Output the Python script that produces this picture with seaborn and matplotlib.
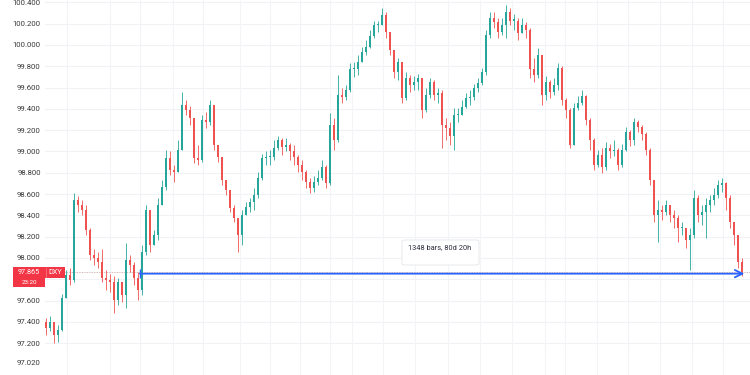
import numpy as np
import pandas as pd
import matplotlib
matplotlib.use("Agg")
import matplotlib.pyplot as plt
import seaborn as sns
from matplotlib.patches import Rectangle, FancyBboxPatch

# ---------------- data ----------------
close = [97.34, 97.40, 97.28, 97.32, 97.62, 97.84, 97.79, 98.54, 98.50, 98.45,
         98.26, 98.03, 98.00, 97.96, 97.81, 97.79, 97.77, 97.61, 97.77, 97.65,
         97.98, 97.93, 97.81, 97.70, 98.06, 98.45, 98.12, 98.22, 98.50, 98.67,
         98.94, 98.83, 98.81, 99.01, 99.44, 99.39, 99.31, 98.94, 98.92, 99.30,
         99.28, 99.44, 99.06, 98.95, 98.73, 98.64, 98.47, 98.38, 98.22, 98.40,
         98.48, 98.53, 98.59, 98.75, 98.94, 98.95, 98.95, 99.03, 99.11, 99.04,
         99.06, 99.00, 98.95, 98.87, 98.81, 98.71, 98.66, 98.71, 98.75, 98.85,
         98.70, 99.25, 99.11, 99.53, 99.51, 99.58, 99.77, 99.77, 99.84, 99.93,
         99.98, 100.08, 100.19, 100.19, 100.28, 100.12, 99.95, 99.75, 99.84, 99.50,
         99.69, 99.62, 99.65, 99.69, 99.39, 99.53, 99.65, 99.53, 99.55, 99.25,
         99.22, 99.15, 99.34, 99.34, 99.42, 99.50, 99.51, 99.60, 99.64, 99.75,
         100.09, 100.25, 100.22, 100.12, 100.19, 100.31, 100.23, 100.23, 100.11, 100.19,
         100.14, 99.77, 99.72, 99.91, 99.53, 99.65, 99.56, 99.62, 99.78, 99.48,
         99.39, 99.06, 99.41, 99.46, 99.52, 99.30, 99.11, 98.87, 98.97, 98.85,
         99.03, 99.00, 99.01, 98.87, 99.01, 99.18, 99.11, 99.28, 99.23, 99.16,
         99.01, 98.73, 98.40, 98.45, 98.43, 98.50, 98.40, 98.38, 98.28, 98.28,
         98.17, 98.22, 98.56, 98.40, 98.43, 98.50, 98.54, 98.59, 98.69, 98.70,
         98.56, 98.34, 98.22, 97.96, 97.865]

high = [97.44, 97.46, 97.40, 97.37, 97.66, 97.89, 97.91, 98.61, 98.58, 98.54,
        98.50, 98.28, 98.08, 98.06, 98.08, 97.89, 97.85, 97.83, 97.81, 97.77,
        98.14, 98.03, 97.96, 97.87, 98.12, 98.50, 98.43, 98.26, 98.56, 98.73,
        99.01, 99.00, 98.87, 99.11, 99.56, 99.48, 99.43, 99.31, 99.06, 99.34,
        99.37, 99.48, 99.44, 99.06, 98.87, 98.73, 98.59, 98.50, 98.38, 98.45,
        98.53, 98.56, 98.66, 98.81, 98.98, 99.00, 99.01, 99.11, 99.15, 99.13,
        99.13, 99.08, 99.06, 98.97, 98.92, 98.83, 98.75, 98.77, 98.83, 98.92,
        98.87, 99.36, 99.31, 99.72, 99.60, 99.62, 99.83, 99.84, 99.91, 99.98,
        100.05, 100.14, 100.23, 100.23, 100.35, 100.31, 100.12, 99.88, 99.88, 99.81,
        99.75, 99.72, 99.71, 99.73, 99.69, 99.60, 99.69, 99.67, 99.60, 99.58,
        99.31, 99.28, 99.41, 99.41, 99.48, 99.55, 99.58, 99.63, 99.69, 99.78,
        100.14, 100.31, 100.31, 100.25, 100.25, 100.38, 100.35, 100.29, 100.25, 100.25,
        100.22, 100.16, 99.88, 99.97, 99.91, 99.71, 99.67, 99.69, 99.83, 99.80,
        99.50, 99.41, 99.46, 99.52, 99.58, 99.53, 99.31, 99.13, 99.01, 99.03,
        99.09, 99.07, 99.11, 99.03, 99.07, 99.23, 99.20, 99.31, 99.30, 99.25,
        99.18, 99.03, 98.73, 98.54, 98.50, 98.54, 98.47, 98.45, 98.40, 98.34,
        98.28, 98.28, 98.64, 98.59, 98.50, 98.56, 98.59, 98.66, 98.73, 98.75,
        98.71, 98.59, 98.34, 98.19, 98.00]

low = [97.28, 97.31, 97.20, 97.21, 97.31, 97.62, 97.75, 97.77, 98.43, 98.40,
       98.22, 97.98, 97.93, 97.91, 97.77, 97.70, 97.68, 97.48, 97.56, 97.59,
       97.53, 97.87, 97.75, 97.61, 97.65, 98.03, 98.06, 98.12, 98.17, 98.54,
       98.64, 98.78, 98.71, 98.92, 99.06, 99.34, 99.25, 98.89, 98.87, 98.90,
       99.22, 99.25, 99.01, 98.90, 98.69, 98.59, 98.43, 98.34, 98.06, 98.12,
       98.40, 98.43, 98.45, 98.56, 98.73, 98.87, 98.87, 98.92, 99.01, 98.97,
       99.00, 98.92, 98.87, 98.81, 98.73, 98.66, 98.61, 98.62, 98.69, 98.73,
       98.66, 98.69, 99.01, 99.09, 99.46, 99.48, 99.56, 99.70, 99.72, 99.84,
       99.91, 99.97, 100.07, 100.12, 100.19, 100.07, 99.91, 99.69, 99.67, 99.46,
       99.48, 99.56, 99.58, 99.58, 99.31, 99.37, 99.50, 99.48, 99.46, 99.03,
       99.11, 99.06, 99.01, 99.28, 99.34, 99.41, 99.44, 99.48, 99.56, 99.62,
       99.72, 100.07, 100.16, 100.07, 100.09, 100.07, 100.19, 100.14, 100.05, 100.12,
       100.07, 99.69, 99.65, 99.69, 99.44, 99.48, 99.50, 99.53, 99.58, 99.44,
       99.31, 99.03, 99.06, 99.39, 99.44, 99.25, 99.01, 98.83, 98.85, 98.80,
       98.83, 98.94, 98.96, 98.83, 98.85, 99.00, 99.05, 99.06, 99.18, 99.11,
       98.97, 98.69, 98.34, 98.15, 98.36, 98.40, 98.34, 98.28, 98.15, 98.22,
       98.09, 97.89, 98.19, 98.34, 98.31, 98.19, 98.43, 98.50, 98.56, 98.62,
       98.45, 98.28, 98.12, 97.91, 97.83]

first_open = 97.40
y_ticks = [97.2, 97.4, 97.6, 97.8, 98.0, 98.2, 98.4, 98.6, 98.8, 99.0,
           99.2, 99.4, 99.6, 99.8, 100.0, 100.2, 100.4]
hidden_tick = 97.8            # covered by the price label in the reference
bottom_tick = 97.02
last_price = 97.865
symbol = "DXY"
countdown = "23:20"
measure_text = "1348 bars, 80d 20h"
measure_start = 23.5          # bar index where the measure arrow starts
x_grid = [5.25, 16, 23.5, 31.75, 39.25, 48.5, 56, 63.5, 71, 76.5, 84.25,
          92.25, 100.5, 108.5, 116.5, 124.75, 129.75, 137.75, 145.5, 153.5,
          161.5, 169.25]

GREEN = "#26a69a"
RED = "#ef5350"
BLUE = "#2962ff"
LABEL_RED = "#f23645"

# ---------------- figure ----------------
sns.set_theme(style="white")
plt.rcParams['font.family'] = ['Roboto', 'DejaVu Sans']

W, H = 750, 375
fig = plt.figure(figsize=(7.5, 3.75), dpi=100)
fig.patch.set_facecolor("white")
ax = fig.add_axes([45 / W, 0, 705 / W, 1])
ax.set_facecolor("white")

df = pd.DataFrame({"close": close, "high": high, "low": low})
df["open"] = [first_open] + close[:-1]
df["x"] = np.arange(len(df))
df["high"] = df[["high", "open", "close"]].max(axis=1)
df["low"] = df[["low", "open", "close"]].min(axis=1)
up = df["close"] >= df["open"]
cols = np.where(up, GREEN, RED)

# grid
for v in y_ticks:
    ax.axhline(v, color="#f0f2f6", lw=0.8, zorder=0)
for v in x_grid:
    ax.axvline(v, color="#f3f4f7", lw=0.8, zorder=0)

# candles
ax.vlines(df["x"], df["low"], df["high"], colors=cols, lw=0.6, zorder=2)
body_lo = df[["open", "close"]].min(axis=1)
body_h = (df["close"] - df["open"]).abs().clip(lower=0.01)
ax.bar(df["x"], body_h, bottom=body_lo, width=0.5, color=cols, lw=0, zorder=3)

# last price line + measure arrow
ax.axhline(last_price, color="#c9a3a6", lw=0.6, ls=(0, (1, 1)), zorder=1)
ax.annotate("", xy=(len(df) - 0.4, last_price - 0.012),
            xytext=(measure_start, last_price - 0.012),
            arrowprops=dict(arrowstyle="->,head_length=0.45,head_width=0.22",
                            color=BLUE, lw=1.3, shrinkA=0, shrinkB=0),
            zorder=4)
ax.vlines(measure_start, last_price - 0.05, last_price + 0.03, color=BLUE,
          lw=1.0, zorder=4)

ax.set_xlim(-0.25, 176)
ax.set_ylim(100.4225 - 375 / 106.5, 100.4225)
shown = [v for v in y_ticks if v != hidden_tick] + [bottom_tick]
ax.set_yticks(shown)
ax.set_yticklabels([f"{v:.3f}" for v in shown])
ax.set_xticks([])
ax.tick_params(axis="y", length=0, pad=3, labelsize=5.6, labelcolor="#3a3a3a")
for s in ax.spines.values():
    s.set_visible(False)

# tooltip box for the measure
fig.add_artist(FancyBboxPatch((402 / W, 1 - 265 / H), 77 / W, 25 / H,
                              boxstyle="round,pad=0,rounding_size=0.004",
                              transform=fig.transFigure, facecolor="white",
                              edgecolor="#e3e5ea", lw=0.6, zorder=5))
fig.text(440 / W, 1 - 247.5 / H, measure_text, ha="center", va="center",
         fontsize=5.3, color="#2a2e39", zorder=6)

# red price label on the left scale
fig.add_artist(Rectangle((13 / W, 1 - 278 / H), 52 / W, 11 / H,
                         transform=fig.transFigure, facecolor=LABEL_RED,
                         edgecolor="none", zorder=5))
fig.add_artist(Rectangle((13 / W, 1 - 287 / H), 32 / W, 10 / H,
                         transform=fig.transFigure, facecolor=LABEL_RED,
                         edgecolor="none", zorder=5))
fig.add_artist(plt.Line2D([45.5 / W, 45.5 / W], [1 - 277 / H, 1 - 268 / H],
                          transform=fig.transFigure, color="#f6838d", lw=0.5,
                          zorder=6))
fig.text(29 / W, 1 - 272 / H, f"{last_price:.3f}", ha="center", va="center",
         fontsize=5.2, color="white", zorder=7)
fig.text(55 / W, 1 - 272 / H, symbol, ha="center", va="center",
         fontsize=5.2, color="white", zorder=7)
fig.text(29 / W, 1 - 282.5 / H, countdown, ha="center", va="center",
         fontsize=4.5, color="white", zorder=7)

fig.savefig("out.png", dpi=100, facecolor="white")
